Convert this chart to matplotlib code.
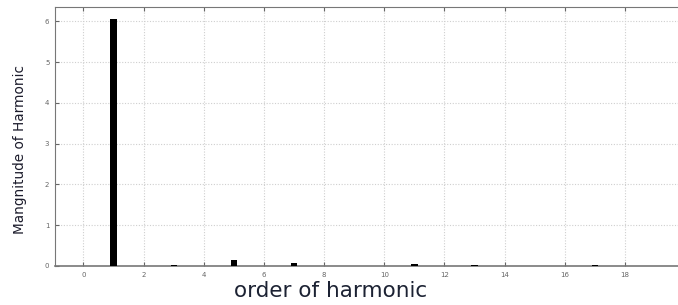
import matplotlib
matplotlib.use('Agg')
import matplotlib.pyplot as plt

# harmonic spectrum
orders = [1, 3, 5, 7, 11, 13, 17]
magnitudes = [6.05, 0.03, 0.15, 0.08, 0.04, 0.02, 0.02]
xticks = [0, 2, 4, 6, 8, 10, 12, 14, 16, 18]
yticks = [0, 1, 2, 3, 4, 5, 6]

fig = plt.figure(figsize=(6.78, 3.05), dpi=100)
ax = fig.add_axes([0.081, 0.128, 0.925, 0.849])

ax.bar(orders, magnitudes, width=0.21, color='black', zorder=3)

ax.set_xlim(-0.95, 19.9)
ax.set_ylim(0, 6.35)
ax.set_xticks(xticks)
ax.set_yticks(yticks)
ax.grid(True, linestyle=(0, (1, 1.5)), color='#cfcfcf', linewidth=0.8)
ax.tick_params(direction='in', length=3, labelsize=5, colors='#666666',
               top=True, pad=4)
for side in ['left', 'bottom', 'top']:
    ax.spines[side].set_color('#777777')
ax.spines['bottom'].set_linewidth(1.2)
ax.spines['right'].set_visible(False)

fig.text(0.03, 0.51, 'Mangnitude of Harmonic', rotation=90, fontsize=9.8,
         ha='center', va='center', color='#1c1c2c')
fig.text(0.487, 0.045, 'order of harmonic', fontsize=15.5,
         ha='center', va='center', color='#1c2233')

fig.savefig('out.png', dpi=100)
